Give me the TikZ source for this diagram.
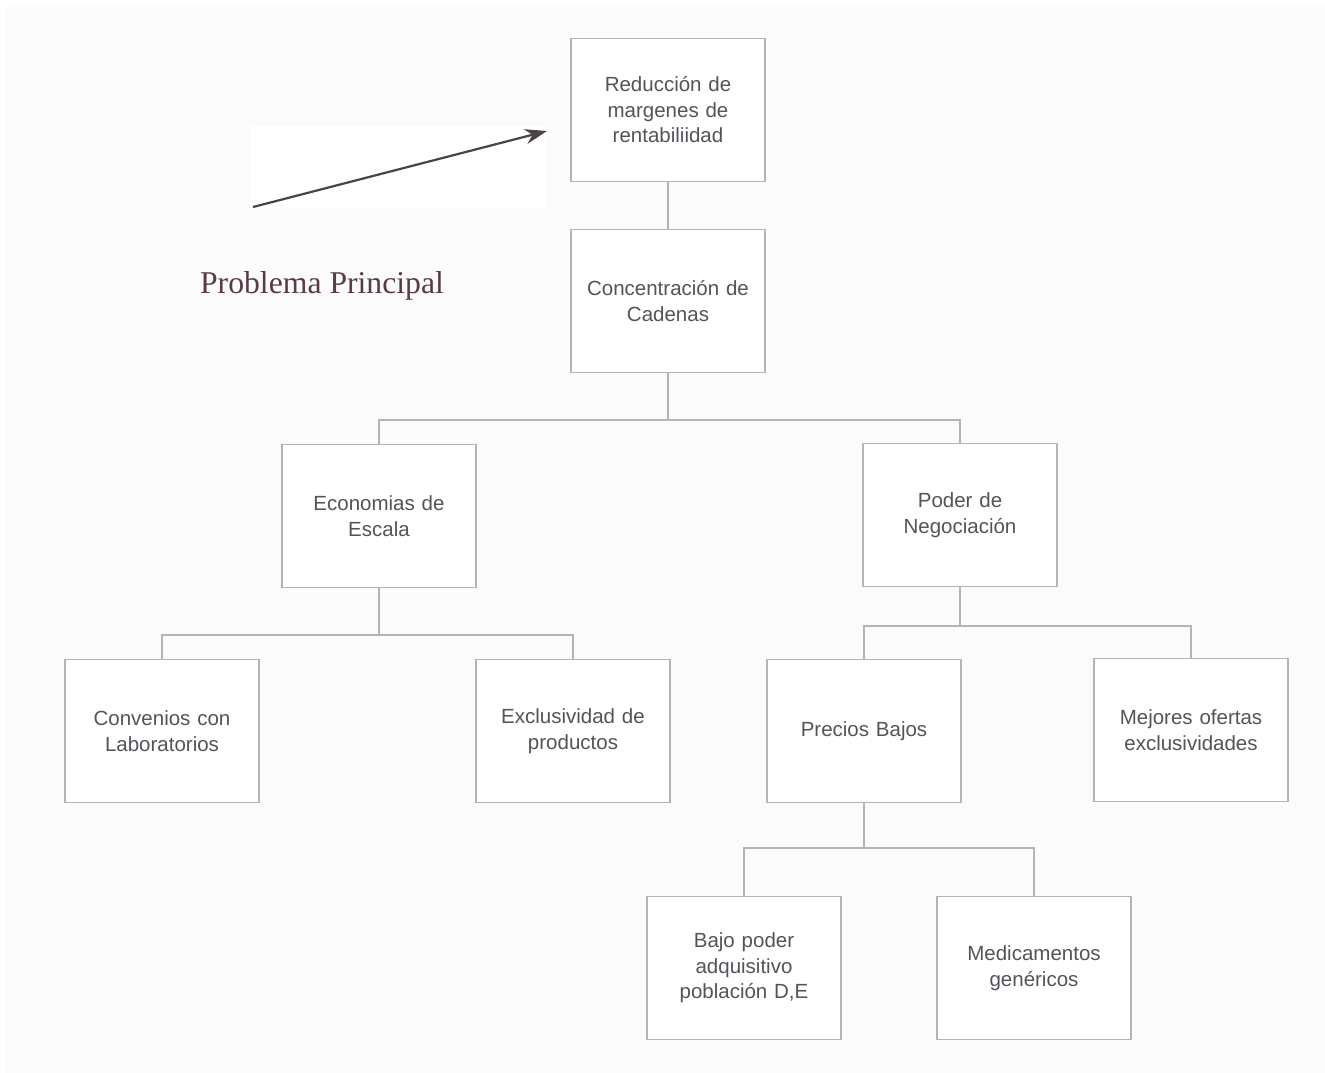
\documentclass[tikz,border=0pt]{standalone}
\usepackage{fontspec}
\usepackage{tikz}
\usetikzlibrary{arrows.meta}
\newfontfamily\boxfont{Liberation Sans}
\newfontfamily\titlefont{Liberation Serif}
\definecolor{boxline}{HTML}{B4B4B4}
\definecolor{boxtext}{HTML}{57525A}
\definecolor{titletext}{HTML}{5A3A4A}
\definecolor{arrowgray}{HTML}{4A4248}

\begin{document}
\begin{tikzpicture}[x=1pt,y=-1pt,
   cause/.style={draw=boxline,line width=1.3pt,fill=white,minimum width=194pt,minimum height=143pt,
      text width=186pt,align=center,text=boxtext,font=\boxfont\fontsize{20.5}{25.5}\selectfont,inner sep=0pt},
   link/.style={draw=boxline,line width=1.3pt}]
\useasboundingbox (0,0) rectangle (1325,1073);
\fill[gray!3] (7,7) rectangle (1325,1073);
\fill[white] (250,126) rectangle (547,208);
% boxes of the tree
\node[cause] (reduc) at (668,110) {Reducción de\\margenes de\\rentabiliidad};
\node[cause] (conc) at (668,301) {Concentración de\\Cadenas};
\node[cause] (econ) at (379,516) {Economias de\\Escala};
\node[cause] (poder) at (960,515) {Poder de\\Negociación};
\node[cause] (conv) at (162,731) {Convenios con\\Laboratorios};
\node[cause] (excl) at (573,731) {Exclusividad de\\productos};
\node[cause] (prec) at (864,731) {Precios Bajos};
\node[cause] (mejor) at (1191,730) {Mejores ofertas\\exclusividades};
\node[cause] (bajo) at (744,968) {Bajo poder\\adquisitivo\\población D,E};
\node[cause] (medic) at (1034,968) {Medicamentos\\genéricos};
% branch points
\coordinate (b1) at (668,420);
\coordinate (b2) at (379,635);
\coordinate (b3) at (960,626);
\coordinate (b4) at (864,848);
\draw[link] (reduc) -- (conc);
\draw[link] (conc) -- (b1) -| (econ);
\draw[link] (b1) -| (poder);
\foreach \p/\a/\b in {b2/conv/excl,b3/prec/mejor,b4/bajo/medic} {
   \draw[link] (\p) -| (\a);
   \draw[link] (\p) -| (\b);
}
\draw[link] (econ) -- (b2);
\draw[link] (poder) -- (b3);
\draw[link] (prec) -- (b4);
% label and pointer
\node[text=titletext,font=\titlefont\fontsize{31.7}{36}\selectfont] (prob) at (322,286) {Problema Principal};
\coordinate (tail) at (253,207);
\draw[arrowgray,line width=2.2pt,-{Stealth[length=22pt,width=15pt]}] (tail) -- (547,131);
\end{tikzpicture}
\end{document}
